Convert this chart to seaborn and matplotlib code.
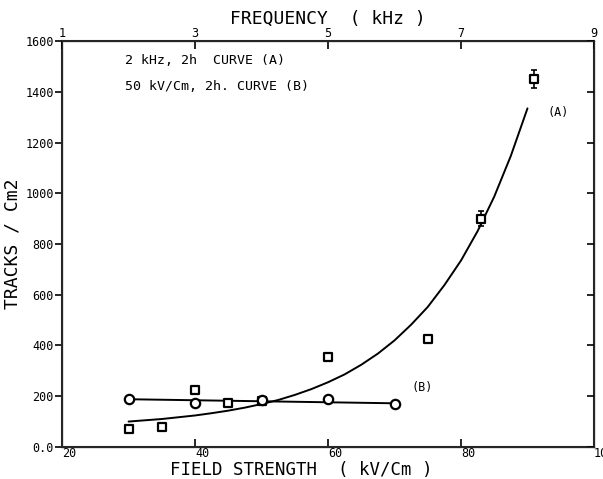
import matplotlib
matplotlib.use("Agg")
import matplotlib.pyplot as plt
import seaborn as sns
import pandas as pd

# ---- data ----
# Curve A: 2 kHz, 2h, vs field strength (squares)
a_field = [30, 35, 40, 45, 50, 60, 75, 83, 91]
a_tracks = [70, 80, 225, 175, 180, 355, 425, 900, 1450]
a_err = [8, 8, 12, 8, 8, 12, 15, 30, 36]
# fitted curve A
a_fit_x = [30, 32.5, 35, 37.5, 40, 42.5, 45, 47.5, 50, 52.5, 55, 57.5, 60, 62.5,
           65, 67.5, 70, 72.5, 75, 77.5, 80, 82.5, 85, 87.5, 90]
a_fit_y = [100, 105, 110, 117, 124, 133, 143, 155, 169, 185, 205, 228, 255, 286,
           324, 368, 420, 482, 552, 638, 735, 851, 987, 1148, 1335]
# Curve B: 50 kV/cm, 2h, vs frequency (circles)
b_freq = [2, 3, 4, 5, 6]
b_tracks = [188, 175, 185, 190, 168]
b_fit_f = [2, 6]
b_fit_y = [188, 172]

x_ticks = [20, 40, 60, 80, 100]
y_ticks = [0, 200, 400, 600, 800, 1000, 1200, 1400, 1600]
y_ticklabels = ["0.0", "200", "400", "600", "800", "1000", "1200", "1400", "1600"]
top_ticks = [1, 3, 5, 7, 9]

sns.set_style("ticks")
plt.rcParams["font.family"] = ["DejaVu Sans Mono"]
plt.rcParams["text.color"] = "black"
plt.rcParams["axes.labelcolor"] = "black"
plt.rcParams["xtick.color"] = "black"
plt.rcParams["ytick.color"] = "black"

fig = plt.figure(figsize=(6.03, 4.79), dpi=100)
ax = fig.add_axes([0.103, 0.067, 0.882, 0.847])

# frequency axis on top: f -> field-strength position
def f2x(f):
    return 20 + (f - 1) * 10

dfa = pd.DataFrame({"x": a_fit_x, "y": a_fit_y})
sns.lineplot(data=dfa, x="x", y="y", ax=ax, color="black", lw=1.4, sort=False)
dfb = pd.DataFrame({"x": [f2x(f) for f in b_fit_f], "y": b_fit_y})
sns.lineplot(data=dfb, x="x", y="y", ax=ax, color="black", lw=1.4, sort=False)

ax.errorbar(a_field, a_tracks, yerr=a_err, fmt="none", ecolor="black",
            elinewidth=1.2, capsize=2.5, capthick=1.2, zorder=3)
sns.scatterplot(x=a_field, y=a_tracks, ax=ax, marker="s", s=40,
                facecolor="white", edgecolor="black", linewidth=1.6, zorder=4)
sns.scatterplot(x=[f2x(f) for f in b_freq], y=b_tracks, ax=ax, marker="o", s=45,
                facecolor="white", edgecolor="black", linewidth=1.6, zorder=4)

ax.set_xlim(20, 100)
ax.set_ylim(0, 1600)
ax.set_xticks(x_ticks)
ax.set_xticklabels([str(t) for t in x_ticks], fontsize=8.5, ha="left")
ax.set_yticks(y_ticks)
ax.set_yticklabels(y_ticklabels, fontsize=8.5)
ax.tick_params(axis="x", direction="in", length=6, width=1.2, pad=0)
ax.tick_params(axis="y", direction="out", length=5, width=1.2, pad=1)
ax.set_xlabel("FIELD STRENGTH  ( kV/Cm )", fontsize=12.5)
ax.xaxis.set_label_coords(0.45, -0.035)
ax.set_ylabel("TRACKS / Cm2", fontsize=13, labelpad=3)
for s in ax.spines.values():
    s.set_linewidth(1.5)
    s.set_visible(True)

axr = ax.twinx()
axr.set_ylim(0, 1600)
axr.set_yticks(y_ticks)
axr.set_yticklabels([])
axr.tick_params(axis="y", direction="in", length=5, width=1.2)

axt = ax.twiny()
axt.set_xlim(1, 9)
axt.set_xticks(top_ticks)
axt.set_xticklabels([str(t) for t in top_ticks], fontsize=8.5)
axt.tick_params(axis="x", direction="in", length=6, width=1.2, pad=1)
axt.set_xlabel("FREQUENCY  ( kHz )", fontsize=13, labelpad=2)

ax.text(29.5, 1525, "2 kHz, 2h  CURVE (A)", fontsize=9.5, va="center")
ax.text(29.5, 1420, "50 kV/Cm, 2h. CURVE (B)", fontsize=9.5, va="center")
ax.text(93, 1320, "(A)", fontsize=8.5, va="center")
ax.text(72.5, 236, "(B)", fontsize=8.5, va="center")

fig.savefig("out.png", dpi=100)
